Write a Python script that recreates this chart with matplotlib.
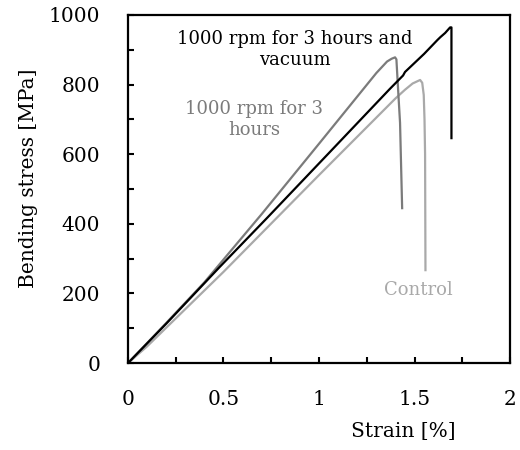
import matplotlib
matplotlib.use('Agg')
import matplotlib.pyplot as plt
from matplotlib.ticker import MultipleLocator

# strain [%] / bending stress [MPa] for the three specimens
vacuum_strain = [0, 0.2, 0.48, 0.73, 1.06, 1.37, 1.44, 1.45, 1.55, 1.62, 1.635, 1.66, 1.686, 1.693, 1.693]
vacuum_stress = [0, 113, 276, 418, 608, 787, 826, 836, 888, 928, 936, 948, 964, 964, 646]

rpm_strain = [0, 0.2, 0.4, 0.7, 1.0, 1.3, 1.356, 1.38, 1.398, 1.405, 1.414, 1.424, 1.428, 1.435]
rpm_stress = [0, 115, 232, 428, 630, 833, 866, 874, 878, 872, 784, 690, 600, 445]

control_strain = [0, 0.1, 0.5, 1.0, 1.4, 1.45, 1.49, 1.529, 1.54, 1.548, 1.552, 1.555, 1.557]
control_stress = [0, 48, 262, 540, 760, 785, 803, 813, 805, 770, 700, 600, 267]

plt.rcParams['font.family'] = ['DejaVu Serif']

fig = plt.figure(figsize=(5.2, 4.5), dpi=100)
ax = fig.add_axes([0.246, 0.193, 0.735, 0.774])

ax.plot(control_strain, control_stress, color='#a9a9a9', lw=1.6)
ax.plot(rpm_strain, rpm_stress, color='#7b7b7b', lw=1.6)
ax.plot(vacuum_strain, vacuum_stress, color='black', lw=1.6)

ax.set_xlim(0, 2)
ax.set_ylim(0, 1000)
ax.xaxis.set_minor_locator(MultipleLocator(0.25))
ax.yaxis.set_major_locator(MultipleLocator(200))
ax.yaxis.set_minor_locator(MultipleLocator(100))
ax.set_xticks([0, 0.5, 1, 1.5, 2])
ax.set_xticklabels(['0', '0.5', '1', '1.5', '2'])

for s in ax.spines.values():
    s.set_linewidth(1.6)
ax.tick_params(which='both', direction='in', length=4.5, width=1.5, labelsize=14.5)
ax.tick_params(axis='y', which='both', pad=20)
ax.tick_params(axis='x', which='both', pad=19)

ax.set_ylabel('Bending stress [MPa]', fontsize=14.5)
ax.yaxis.set_label_coords(-0.235, 0.53)
ax.set_xlabel('Strain [%]', fontsize=14.5)
ax.xaxis.set_label_coords(0.72, -0.17)

ax.text(0.874, 900, '1000 rpm for 3 hours and\nvacuum', ha='center', va='center',
        fontsize=13, color='black', linespacing=1.25)
ax.text(0.66, 700, '1000 rpm for 3\nhours', ha='center', va='center',
        fontsize=13, color='#7b7b7b', linespacing=1.25)
ax.text(1.518, 210, 'Control', ha='center', va='center', fontsize=13, color='#a9a9a9')

fig.savefig('out.png', dpi=100)
